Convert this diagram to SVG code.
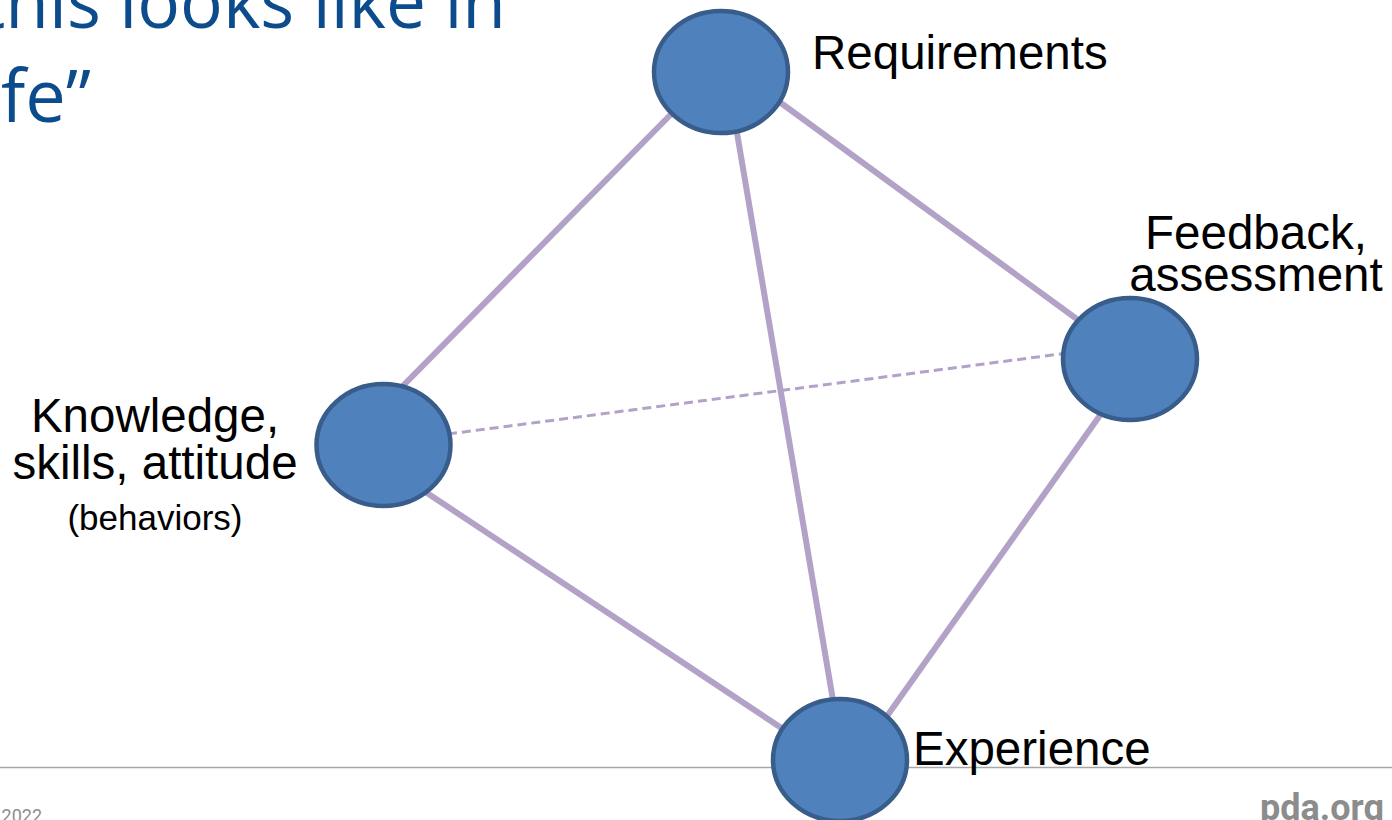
<svg xmlns="http://www.w3.org/2000/svg" width="1392" height="820" viewBox="0 0 1392 820">
  <style>
    .title { font-family: "Open Sans", "Liberation Sans", sans-serif; font-size: 74px; fill: #0C4C8C; }
    .label { font-family: "Liberation Sans", Arial, sans-serif; font-size: 47.5px; fill: #000000; }
    .small { font-family: "Liberation Sans", Arial, sans-serif; font-size: 35px; fill: #000000; }
    .node { fill: #4F81BD; stroke: #385D8A; stroke-width: 4.5; }
    .edge { stroke: #B3A2C7; stroke-width: 6; fill: none; }
    .edge-dashed { stroke: #B3A2C7; stroke-width: 3; stroke-dasharray: 9 5; fill: none; }
    .footer { font-family: Roboto, "Liberation Sans", sans-serif; fill: #8C8C8C; }
  </style>
  <rect width="1392" height="820" fill="#FFFFFF"/>

  <!-- slide title (runs off the top-left corner) -->
  <g id="title">
    <text class="title" x="-20" y="28" textLength="526" lengthAdjust="spacingAndGlyphs">this looks like in</text>
    <text class="title" x="1" y="122" textLength="90" lengthAdjust="spacingAndGlyphs">fe”</text>
  </g>

  <!-- footer rule -->
  <line x1="0" y1="767.5" x2="1392" y2="767.5" stroke="#A6A6A6" stroke-width="1.5"/>

  <!-- connectors -->
  <g id="connectors">
    <line class="edge" x1="690" y1="95" x2="385" y2="404"/>
    <line class="edge" x1="734" y1="115" x2="836" y2="718"/>
    <line class="edge" x1="770" y1="95" x2="1085" y2="325"/>
    <line class="edge" x1="1108" y1="404" x2="880" y2="726"/>
    <line class="edge" x1="415" y1="485" x2="795" y2="737"/>
    <line class="edge-dashed" x1="448" y1="434" x2="1068" y2="353"/>
  </g>

  <g id="node-requirements">
    <ellipse class="node" cx="721" cy="72" rx="67" ry="61"/>
    <text class="label" x="812" y="69">Requirements</text>
  </g>

  <g id="node-feedback">
    <ellipse class="node" cx="1130" cy="359" rx="67" ry="61"/>
    <text class="label" x="1256" y="249" text-anchor="middle">Feedback,</text>
    <text class="label" x="1256" y="291" text-anchor="middle">assessment</text>
  </g>

  <g id="node-knowledge">
    <ellipse class="node" cx="383.5" cy="445" rx="67" ry="61"/>
    <text class="label" x="155" y="432" text-anchor="middle">Knowledge,</text>
    <text class="label" x="155" y="479" text-anchor="middle">skills, attitude</text>
    <text class="small" x="155" y="530" text-anchor="middle">(behaviors)</text>
  </g>

  <g id="node-experience">
    <ellipse class="node" cx="840" cy="760" rx="67" ry="61"/>
    <text class="label" x="913" y="765">Experience</text>
  </g>

  <!-- footer texts -->
  <g id="footer">
    <text class="footer" x="42" y="822" text-anchor="end" font-size="18">2022</text>
    <text class="footer" x="1384" y="820" text-anchor="end" font-size="36" font-weight="bold">pda.org</text>
  </g>
</svg>
